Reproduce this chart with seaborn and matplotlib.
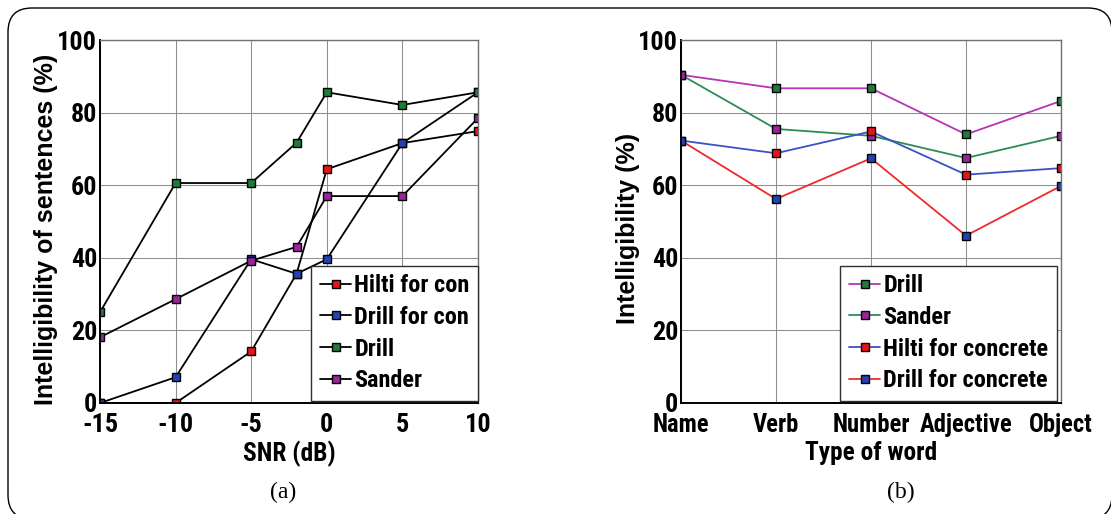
import matplotlib
matplotlib.use("Agg")
import matplotlib.pyplot as plt
import seaborn as sns
import numpy as np
import pandas as pd
from matplotlib import font_manager
from matplotlib.font_manager import FontProperties
from matplotlib.textpath import TextPath
from matplotlib.lines import Line2D
from matplotlib.patches import FancyBboxPatch
from matplotlib.transforms import IdentityTransform

# ---------------- data ----------------
snr_db = [-15, -10, -5, -2, 0, 5, 10]
hilti_con = [0, 0, 14.2, 35.6, 64.4, 71.6, 74.9]
drill_con = [0, 7.1, 39.6, 35.6, 39.6, 71.6, 85.6]
drill_a = [25.0, 60.6, 60.6, 71.7, 85.6, 82.1, 85.6]
sander_a = [18.1, 28.6, 39.2, 43.0, 57.0, 57.0, 78.5]
labels_a = ["Hilti for con", "Drill for con", "Drill", "Sander"]

word_types = ["Name", "Verb", "Number", "Adjective", "Object"]
drill_b = [90.4, 86.7, 86.7, 74.0, 83.2]
sander_b = [90.4, 75.5, 73.6, 67.5, 73.6]
hilti_b = [72.3, 68.8, 74.8, 62.9, 64.7]
drill_conc_b = [72.3, 56.2, 67.4, 46.1, 59.8]
labels_b = ["Drill", "Sander", "Hilti for concrete", "Drill for concrete"]

x_ticks_a = [-15, -10, -5, 0, 5, 10]
y_ticks = [0, 20, 40, 60, 80, 100]

# ---------------- style ----------------
sns.set_theme(style="white")
for k in ("text.color", "axes.labelcolor", "xtick.color", "ytick.color"):
    plt.rcParams[k] = "black"

# pick the narrowest installed bold sans face (reference uses a condensed bold grotesque)
cands = []
allowed = ("Liberation Sans Narrow", "Liberation Sans", "DejaVu Sans", "Roboto",
           "Roboto Condensed", "Noto Sans", "Open Sans", "Lato", "Inter")
seen = set()
for f in font_manager.fontManager.ttflist:
    w = f.weight if isinstance(f.weight, int) else {"bold": 700, "normal": 400}.get(f.weight, 400)
    if f.name in allowed and f.style == "normal" and w >= 600:
        key = (f.name, f.stretch, w)
        if key in seen:
            continue
        seen.add(key)
        cands.append(f)

best_fp, best_ratio = None, 1e9
for f in cands:
    try:
        fp = FontProperties(fname=f.fname)
        tp = TextPath((0, 0), "Adjective 100", size=100, prop=fp)
        ratio = tp.get_extents().width / 100.0
        if ratio < best_ratio:
            best_ratio, best_fp = ratio, f
    except Exception:
        pass

if best_fp is not None:
    NARROW = FontProperties(fname=best_fp.fname)
else:
    NARROW = FontProperties(family="DejaVu Sans", weight="bold")

# size so that the word "Adjective" is ~92 px wide
w_adj = TextPath((0, 0), "Adjective", size=100, prop=NARROW).get_extents().width / 100.0
TICK_PT = min(18.0, 92.0 / w_adj * 72 / 100)

def nf(size):
    p = NARROW.copy()
    p.set_size(size)
    return p

def have(name):
    try:
        font_manager.findfont(name, fallback_to_default=False)
        return True
    except Exception:
        return False

wide = "Liberation Sans" if have("Liberation Sans") else "DejaVu Sans"
serif = "Liberation Serif" if have("Liberation Serif") else "DejaVu Serif"

GREEN_M = "#1f7a3c"
MAG_M = "#9b239b"
RED_M = "#e8131b"
BLUE_M = "#2343b0"
GREEN_L = "#2e8b57"
MAG_L = "#b535b5"
RED_L = "#f02a2a"
BLUE_L = "#3a52c4"

W, H = 1111, 514
fig = plt.figure(figsize=(W / 100, H / 100), dpi=100)
fig.patch.set_facecolor("white")

ax_a = fig.add_axes([100 / W, (H - 403) / H, 378 / W, 363 / H])
ax_b = fig.add_axes([681 / W, (H - 403) / H, 380 / W, 363 / H])

common = dict(marker="s", markersize=5.5, markeredgecolor="black",
              markeredgewidth=1.0, linewidth=1.3)

# ---- panel (a) ----
series_a = [(hilti_con, RED_M), (drill_con, BLUE_M), (drill_a, GREEN_M), (sander_a, MAG_M)]
for vals, mc in series_a:
    sns.lineplot(x=snr_db, y=vals, ax=ax_a, color="black", markerfacecolor=mc,
                 sort=False, estimator=None, **common)

# ---- panel (b) ----
xpos = list(range(len(word_types)))
series_b = [(drill_b, MAG_L, GREEN_M), (sander_b, GREEN_L, MAG_M),
            (hilti_b, BLUE_L, RED_M), (drill_conc_b, RED_L, BLUE_M)]
for vals, lc, mc in series_b:
    sns.lineplot(x=xpos, y=vals, ax=ax_b, color=lc, markerfacecolor=mc,
                 sort=False, estimator=None, **common)

for ax in (ax_a, ax_b):
    ax.set_ylim(0, 100)
    ax.set_yticks(y_ticks)
    ax.set_yticklabels([str(v) for v in y_ticks], fontproperties=nf(TICK_PT + 1.0))
    ax.grid(True, color="#8f8f8f", linewidth=0.75)
    ax.tick_params(axis="both", length=0, pad=2)
    ax.tick_params(axis="x", pad=7)
    for s in ("left", "bottom"):
        ax.spines[s].set_color("black")
        ax.spines[s].set_linewidth(1.4)
    for s in ("top", "right"):
        ax.spines[s].set_color("#707070")
        ax.spines[s].set_linewidth(1.0)
    ax.set_axisbelow(True)

ax_a.set_xlim(-15, 10)
ax_a.set_xticks(x_ticks_a)
ax_a.set_xticklabels([str(v) for v in x_ticks_a], fontproperties=nf(TICK_PT + 1.0))
ax_b.set_xlim(0, len(word_types) - 1)
ax_b.set_xticks(xpos)
ax_b.set_xticklabels(word_types, fontproperties=nf(TICK_PT))

ax_a.set_xlabel("SNR (dB)", fontproperties=nf(TICK_PT + 0.5))
ax_b.set_xlabel("Type of word", fontproperties=nf(TICK_PT + 0.5))
ax_a.xaxis.set_label_coords(0.5, -0.105)
ax_b.xaxis.set_label_coords(0.5, -0.105)

ylab_font = dict(family=[wide, "DejaVu Sans"], weight="bold", size=18)
ax_a.set_ylabel("Intelligibility of sentences (%)", fontdict=ylab_font)
ax_b.set_ylabel("Intelligibility (%)", fontdict=ylab_font)
ax_a.yaxis.set_label_coords(-0.111, 0.479)
ax_b.yaxis.set_label_coords(-0.108, 0.482)

# ---- legends ----
leg_kw = dict(loc="lower right", borderaxespad=0, fancybox=False, framealpha=1,
              edgecolor="#303030", handlelength=1.3, handletextpad=0.12,
              labelspacing=0.36, borderpad=0.35, prop=nf(TICK_PT - 0.3))

h_a = [Line2D([0], [0], color="black", marker="s", markersize=5.5,
              markerfacecolor=mc, markeredgecolor="black", linewidth=1.3)
       for _, mc in series_a]
leg_a = ax_a.legend(h_a, labels_a, bbox_to_anchor=(1.0, 0.006), **leg_kw)
leg_a.get_frame().set_linewidth(1.0)

h_b = [Line2D([0], [0], color=lc, marker="s", markersize=5.5,
              markerfacecolor=mc, markeredgecolor="black", linewidth=1.3)
       for _, lc, mc in series_b]
leg_b = ax_b.legend(h_b, labels_b, bbox_to_anchor=(0.989, 0.006), **leg_kw)
leg_b.get_frame().set_linewidth(1.0)

# ---- captions ----
fig.text(283 / W, 1 - 492 / H, "(a)", ha="center", va="center",
         family=[serif, "DejaVu Serif"], size=17)
fig.text(901 / W, 1 - 492 / H, "(b)", ha="center", va="center",
         family=[serif, "DejaVu Serif"], size=17)

# ---- rounded outer frame (pixel coordinates) ----
frame = FancyBboxPatch((8, -5), 1104, 511,
                       boxstyle="round,pad=0,rounding_size=24",
                       transform=IdentityTransform(), facecolor="none",
                       edgecolor="black", linewidth=1.0, zorder=-1)
fig.add_artist(frame)

fig.savefig("out.png", dpi=100)
